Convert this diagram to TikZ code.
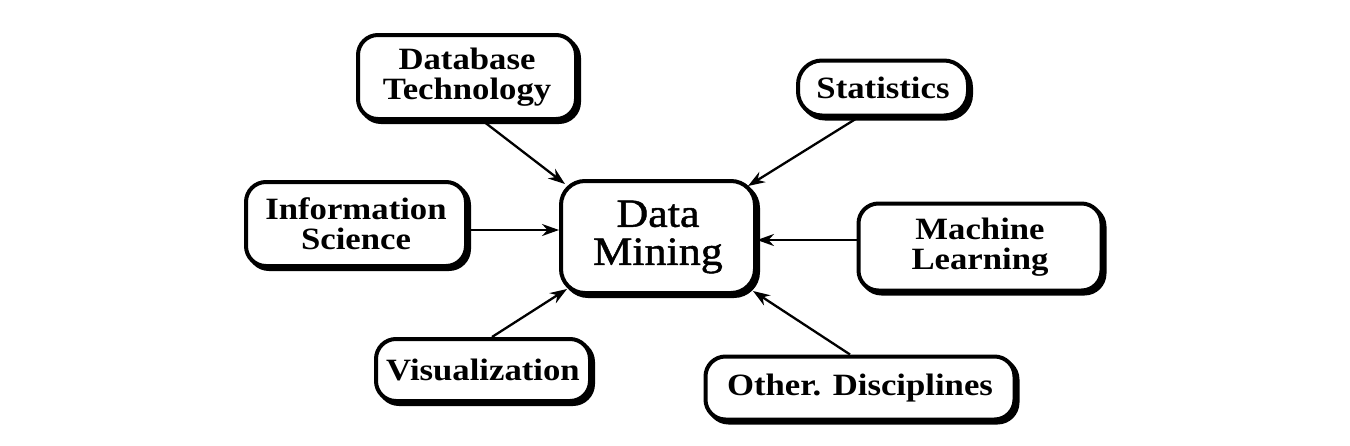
\documentclass[tikz,border=0pt]{standalone}
\usepackage{fontspec}
\setmainfont{Liberation Serif}
\newfontfamily\boxfont[FakeStretch=1.12]{Liberation Serif Bold}
\newfontfamily\dmfont[FakeStretch=1.1,FakeBold=1.2]{Liberation Serif}
\usetikzlibrary{arrows.meta,shadows,calc}
\begin{document}
\begin{tikzpicture}[x=1pt,y=-1pt,
  topic/.style={draw=black, line width=4pt, fill=white, rounded corners=20pt,
    inner sep=0pt, align=center, font=\boxfont\fontsize{31}{30}\selectfont,
    drop shadow={shadow xshift=3pt, shadow yshift=-3pt, fill=black, draw=black, line width=4pt, opacity=1}},
  arr/.style={line width=2.3pt, -{Stealth[length=17pt,width=12pt]}}]
\useasboundingbox (0,0) rectangle (1350,445);
\node[topic, minimum width=218pt, minimum height=84pt] (db) at (467,77) {Database\\Technology};
\node[topic, minimum width=170pt, minimum height=55pt, rounded corners=24pt] (stat) at (883,88) {Statistics};
\node[topic, minimum width=220pt, minimum height=84pt] (info) at (356,224) {Information\\Science};
\node[topic, minimum width=194pt, minimum height=112pt, rounded corners=24pt,
      font=\dmfont\fontsize{40}{38}\selectfont] (dm) at (658,237) {Data\\Mining};
\node[topic, minimum width=243pt, minimum height=87pt] (ml) at (980,247) {Machine\\Learning};
\node[topic, minimum width=214pt, minimum height=62pt] (vis) at (483,370) {Visualization};
\node[topic, minimum width=309pt, minimum height=63pt] (od) at (860,388) {Other. Disciplines};
\draw[arr] ($(db.south)+(16,0)$) -- ($(dm.north west)+(6,5)$);
\draw[arr] ($(stat.south)+(-25,0)$) -- ($(dm.north east)+(-9,7)$);
\draw[arr] ($(info.east)+(0,6)$) -- ($(dm.west)+(0,-7)$);
\draw[arr] ($(ml.west)+(0,-7)$) -- ($(dm.east)+(0,3)$);
\draw[arr] ($(vis.north)+(9,0)$) -- ($(dm.south west)+(8,-6)$);
\draw[arr] ($(od.north)+(-10,0)$) -- ($(dm.south east)+(-4,-4)$);
\end{tikzpicture}
\end{document}
